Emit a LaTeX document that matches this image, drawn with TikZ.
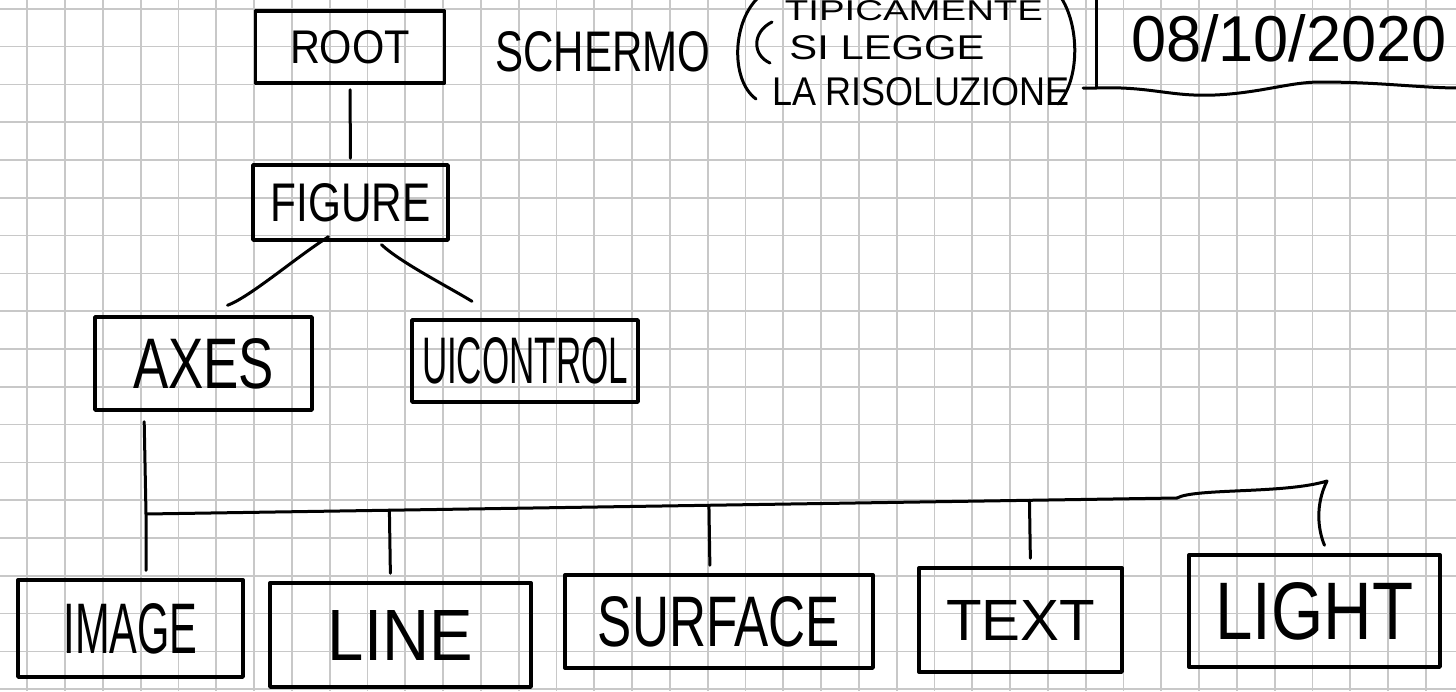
\documentclass[tikz,border=0pt]{standalone}
\usepackage{fontspec}
\setmainfont{Liberation Sans}
\usepackage{graphicx}
\usetikzlibrary{calc}

\definecolor{gridgray}{RGB}{200,200,200}
% hand lettering: width and height given in pixels of the sheet
\newcommand{\hw}[3]{\resizebox{0.5\dimexpr#1pt\relax}{0.5\dimexpr#2pt\relax}{#3}}

\begin{document}
\begin{tikzpicture}[x=0.5pt,y=-0.5pt,
    box/.style={draw,line width=1.7pt,inner sep=0pt,line join=round},
    note/.style={inner sep=0.5pt},
    link/.style={line width=1.5pt,line cap=round,line join=round}]
  \clip (0,0) rectangle (1456,691);
  \fill[white] (0,0) rectangle (1456,691);
  % squared paper
  \foreach \i in {0,...,37}
    \draw[gridgray,line width=0.85pt] (27.3+37.8*\i,0) -- (27.3+37.8*\i,691);
  \foreach \j in {0,...,18}
    \draw[gridgray,line width=0.85pt] (0,8.8+37.8*\j) -- (1456,8.8+37.8*\j);

  % tree of graphic objects
  \node[box,minimum width=94.5pt,minimum height=36pt] (root) at (350,47) {\hw{120}{33}{ROOT}};
  \node[box,minimum width=97.5pt,minimum height=37.5pt] (figure) at (350.5,202.5) {\hw{160}{38}{FIGURE}};
  \node[box,minimum width=108.5pt,minimum height=46.5pt] (axes) at (203.5,363.5) {\hw{141}{50}{AXES}};
  \node[box,minimum width=113pt,minimum height=41pt] (uicontrol) at (525,361) {\hw{206}{46}{UICONTROL}};
  \node[box,minimum width=112.5pt,minimum height=48.5pt] (image) at (130.5,628.5) {\hw{134}{50}{IMAGE}};
  \node[box,minimum width=130.5pt,minimum height=52pt] (line) at (400.5,635) {\hw{145}{50}{LINE}};
  \node[box,minimum width=154pt,minimum height=46.5pt] (surface) at (719,621.5) {\hw{242}{50}{SURFACE}};
  \node[box,minimum width=101.5pt,minimum height=52pt] (text) at (1020.5,620) {\hw{149}{40}{TEXT}};
  \node[box,minimum width=125.5pt,minimum height=56pt] (light) at (1314.5,611) {\hw{198}{57}{LIGHT}};

  \draw[link,shorten <=2.5pt,shorten >=2.5pt] (root) -- (figure);
  \draw[link] ($(figure.south)+(-22,-5)$) .. controls (295,258) and (250,297) .. ($(axes.north)+(24,-10)$);
  \draw[link] ($(figure.south)+(31,3)$) .. controls (400,262) and (445,285) .. ($(uicontrol.north)+(-53,-17)$);

  % bus under axes
  \coordinate (busL) at (146,514);
  \coordinate (busR) at (1177,498);
  \coordinate (bend) at (1327,481);
  \draw[link,shorten <=5pt,shorten >=4pt] ($(axes.south west)!0.23!(axes.south east)$) -- (busL) -- (busL |- image.north);
  \draw[link] (busL) -- (busR);
  \foreach \n/\dx in {line/-10,surface/-9,text/10}{
    \path ($(\n.north)+(\dx,0)$) coordinate (p);
    \draw[link,shorten >=4pt] ($(busL)!(p)!(busR)$) -- (p);
  }
  \draw[link] (busR) .. controls (1195,488) and (1285,494) .. (bend)
    .. controls (1315,505) and (1318,530) .. ($(light.north)+(10,-8)$);

  % note on the screen
  \node[note] (screen) at (603,52) {\hw{215}{40}{SCHERMO}};
  \node[note] (note1) at (914,11) {\hw{258}{20}{TIPICAMENTE}};
  \node[note] (note2) at (887,48) {\hw{195}{24}{SI LEGGE}};
  \node[note] (note3) at (921,92) {\hw{298}{28}{LA RISOLUZIONE}};
  \draw[link] (760,-4) .. controls (732,20) and (730,80) .. (756,99);
  \draw[link] (772,22) .. controls (752,32) and (752,55) .. (770,63);
  \draw[link] (1060,-4) .. controls (1080,25) and (1080,80) .. (1058,104);

  % date
  \node[note] (date) at (1289,38) {\hw{316}{47}{08/10/2020}};
  \draw[link] (1096,-4) -- (1096,88);
  \draw[link] (1083,88) -- (1096,88) .. controls (1150,86) and (1170,97) .. (1215,95)
    .. controls (1260,93) and (1290,82) .. (1320,82) .. controls (1380,82) and (1420,88) .. (1460,88);
\end{tikzpicture}
\end{document}
